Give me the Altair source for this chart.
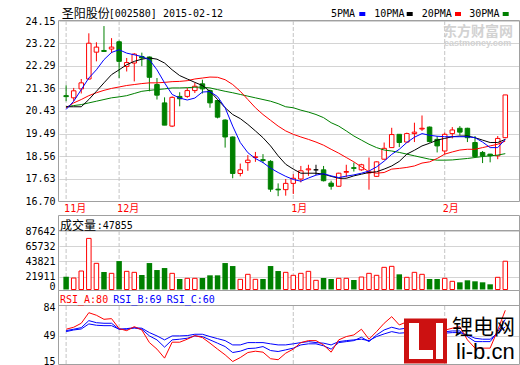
import altair as alt
import pandas as pd

# ---------------- data ----------------
opens = [21.06, 20.97, 21.34, 21.75, 22.86, 22.93, 22.99, 23.29, 22.27, 22.41,
         22.68, 22.66, 21.52, 20.76, 19.80, 21.03, 21.03, 21.27, 21.55, 21.27,
         20.86, 20.05, 19.35, 17.84, 18.29, 18.50, 18.41, 18.34, 17.19, 17.17,
         17.43, 17.61, 17.99, 17.99, 17.99, 17.44, 17.31, 17.89, 18.08, 17.99,
         17.86, 17.72, 18.43, 18.91, 19.46, 19.14, 19.49, 19.68, 19.76, 19.25,
         18.77, 19.49, 19.71, 19.71, 19.12, 18.71, 18.64, 18.57, 19.32]
closes = [21.02, 21.26, 21.59, 23.23, 23.07, 22.89, 23.07, 22.48, 22.43, 22.78,
          22.62, 21.82, 21.08, 19.84, 20.99, 20.93, 21.27, 21.45, 21.34, 20.76,
          20.17, 19.35, 17.84, 17.99, 18.39, 18.53, 18.38, 17.19, 17.16, 17.43,
          17.64, 17.95, 18.03, 17.99, 17.54, 17.31, 17.85, 17.92, 18.05, 18.20,
          17.90, 18.32, 18.88, 19.45, 19.12, 19.49, 19.55, 19.71, 19.16, 18.98,
          19.46, 19.64, 19.55, 19.32, 18.54, 18.57, 18.57, 19.29, 21.09]
highs = [21.49, 21.38, 21.75, 23.64, 23.27, 23.94, 23.44, 23.34, 22.62, 22.82,
         22.84, 22.68, 21.79, 20.99, 21.03, 21.20, 21.38, 21.59, 21.72, 21.31,
         20.90, 20.08, 19.37, 18.25, 18.60, 18.73, 18.64, 18.39, 17.43, 17.61,
         17.81, 18.15, 18.20, 18.20, 18.15, 17.54, 17.87, 18.20, 18.29, 18.24,
         18.50, 18.34, 19.12, 19.73, 19.46, 19.53, 19.94, 20.24, 19.78, 19.39,
         19.53, 19.76, 19.80, 19.73, 19.39, 18.77, 18.65, 19.39, 21.09]
lows = [20.83, 20.83, 21.15, 21.72, 22.48, 22.87, 22.82, 21.79, 22.06, 21.65,
        22.28, 21.24, 20.90, 19.84, 19.76, 20.62, 20.97, 21.17, 21.15, 20.56,
        20.12, 18.91, 17.64, 17.72, 17.95, 18.32, 18.27, 17.08, 16.90, 16.92,
        16.99, 17.47, 17.74, 17.78, 17.51, 17.17, 17.29, 17.68, 17.92, 17.95,
        17.17, 17.70, 18.40, 18.90, 18.93, 19.12, 19.14, 19.60, 19.12, 18.71,
        18.64, 19.29, 19.42, 19.14, 18.54, 18.27, 18.30, 18.43, 19.30]
volumes = [21600, 19750, 29840, 76970, 40940, 28400, 26520, 44250, 29400, 27960,
           24070, 41370, 31280, 34160, 26520, 18300, 19310, 19310, 19750, 23640,
           23640, 41370, 37050, 17870, 25080, 17870, 18300, 37050, 29840, 27960,
           23640, 26520, 29400, 16430, 19750, 18300, 19310, 19310, 16870, 21190,
           26520, 23640, 35170, 36610, 25080, 20760, 27960, 25080, 18300, 18300,
           19310, 14990, 13550, 16430, 14990, 13550, 10670, 20760, 44000]
ma5 = [20.49, 20.83, 21.31, 21.79, 22.13, 22.55, 22.85, 22.96, 22.82, 22.75,
       22.68, 22.55, 22.13, 21.59, 21.11, 20.96, 20.88, 20.96, 21.21, 21.23,
       21.02, 20.56, 19.80, 19.12, 18.70, 18.46, 18.29, 18.06, 17.88, 17.72,
       17.59, 17.52, 17.65, 17.77, 17.83, 17.74, 17.67, 17.73, 17.78, 17.85,
       17.94, 18.11, 18.35, 18.63, 18.84, 19.12, 19.34, 19.49, 19.42, 19.38,
       19.36, 19.36, 19.36, 19.36, 19.32, 19.14, 18.91, 18.91, 19.25]
ma10 = [20.60, 20.60, 20.60, 20.90, 21.24, 21.59, 21.93, 22.13, 22.34, 22.48,
        22.57, 22.62, 22.57, 22.41, 22.13, 21.89, 21.75, 21.61, 21.48, 21.24,
        20.90, 20.56, 20.28, 20.11, 19.87, 19.60, 19.32, 18.98, 18.57, 18.22,
        18.02, 17.85, 17.85, 17.85, 17.81, 17.72, 17.64, 17.64, 17.74, 17.81,
        17.88, 17.91, 18.02, 18.15, 18.34, 18.64, 18.80, 18.98, 19.09, 19.22,
        19.29, 19.36, 19.39, 19.39, 19.32, 19.22, 19.12, 19.12, 19.25]
ma20 = [20.56, 20.76, 20.90, 21.06, 21.18, 21.28, 21.36, 21.42, 21.48, 21.52,
        21.56, 21.59, 21.59, 21.61, 21.64, 21.65, 21.68, 21.75, 21.79, 21.83,
        21.82, 21.72, 21.52, 21.24, 20.90, 20.56, 20.28, 20.04, 19.80, 19.60,
        19.46, 19.35, 19.25, 19.14, 19.01, 18.84, 18.68, 18.50, 18.32, 18.11,
        17.91, 17.85, 17.88, 18.02, 18.05, 18.09, 18.15, 18.27, 18.32, 18.46,
        18.64, 18.73, 18.81, 18.84, 18.84, 18.91, 18.98, 19.05, 19.18]
ma30 = [20.60, 20.65, 20.69, 20.76, 20.83, 20.90, 20.97, 21.01, 21.06, 21.15,
        21.24, 21.28, 21.31, 21.34, 21.38, 21.38, 21.39, 21.41, 21.41, 21.38,
        21.31, 21.24, 21.18, 21.11, 21.04, 20.97, 20.90, 20.83, 20.73, 20.60,
        20.56, 20.46, 20.38, 20.28, 20.15, 19.94, 19.80, 19.60, 19.39, 19.22,
        19.05, 18.91, 18.81, 18.77, 18.71, 18.64, 18.57, 18.50, 18.43, 18.39,
        18.39, 18.40, 18.43, 18.46, 18.50, 18.54, 18.57, 18.60, 18.66]
rsi_a = [57.1, 59.5, 64.3, 77.1, 74.0, 69.1, 69.9, 57.8, 55.4, 60.2,
         56.2, 40.9, 33.0, 22.1, 41.4, 41.4, 45.0, 49.4, 47.0, 40.2,
         33.0, 26.1, 18.0, 22.8, 28.9, 30.5, 29.3, 21.4, 20.2, 28.1,
         33.0, 40.9, 43.3, 43.3, 38.1, 29.3, 44.2, 48.2, 50.2, 57.1,
         45.0, 54.2, 64.3, 72.3, 62.3, 66.0, 67.0, 68.0, 55.0, 50.0,
         56.0, 58.3, 60.2, 44.2, 34.2, 34.2, 34.2, 56.2, 80.0]
rsi_b = [55.4, 57.1, 59.0, 67.5, 65.0, 64.3, 64.3, 57.1, 57.1, 58.6,
         57.1, 49.0, 44.2, 35.4, 44.2, 45.0, 46.2, 49.0, 48.2, 44.2,
         40.2, 36.1, 28.9, 30.5, 33.7, 34.2, 36.1, 31.3, 30.1, 32.1,
         34.2, 38.1, 39.4, 39.4, 37.0, 33.0, 40.9, 42.1, 43.3, 47.4,
         42.1, 50.2, 56.2, 59.5, 57.1, 58.5, 59.0, 60.0, 55.0, 53.0,
         54.0, 55.0, 55.0, 48.2, 42.1, 42.1, 42.1, 54.2, 69.0]
rsi_c = [54.2, 56.2, 57.4, 63.5, 61.9, 61.4, 61.4, 57.1, 57.8, 59.0,
         58.3, 53.0, 49.0, 44.2, 49.0, 49.0, 49.4, 51.0, 51.0, 48.2,
         45.7, 43.3, 38.1, 38.1, 40.9, 40.9, 40.9, 39.4, 38.1, 38.1,
         39.4, 40.9, 42.1, 40.9, 40.2, 38.1, 42.1, 43.3, 44.2, 45.0,
         43.3, 48.2, 51.4, 54.2, 52.3, 53.0, 53.5, 54.0, 52.0, 51.0,
         52.3, 53.0, 53.0, 50.2, 46.2, 45.0, 45.0, 52.3, 60.0]

month_idx = [0, 7, 30, 50]
month_labels = ["11月", "12月", "1月", "2月"]
price_ticks = [16.70, 17.63, 18.56, 19.49, 20.43, 21.36, 22.29, 23.22, 24.15]
vol_ticks = [0, 21911, 43821, 65732, 87642]
rsi_ticks = [15, 49, 84]
title_name = "圣阳股份"
title_code = "[002580] 2015-02-12"
ma_names = ["5PMA", "10PMA", "20PMA", "30PMA"]
vol_name = "成交量"
vol_last = ":47855"
rsi_labels = ["RSI_A:80", "RSI_B:69", "RSI_C:60"]

# ---------------- styles ----------------
RED, GREEN, BLUE, BLACK = "#ff0000", "#008000", "#0000ff", "#000000"
GRID, DASH, FRAME = "#d4d4d4", "#c4c4c4", "#a0a0a0"
MONO = "DejaVu Sans Mono"
CJK = "Noto Sans CJK SC"
MIX = MONO + ", " + CJK
LEFT = 59
PW = 460
VOL_FLOOR = 3170

n = len(closes)
bars = pd.DataFrame({
    "i": list(range(n)), "o": opens, "h": highs, "l": lows, "c": closes, "v": volumes,
    "ma5": ma5, "ma10": ma10, "ma20": ma20, "ma30": ma30,
    "ra": rsi_a, "rb": rsi_b, "rc": rsi_c,
})
months = pd.DataFrame({"i": month_idx, "label": month_labels})
one = pd.DataFrame({"k": [0]})

X = alt.X("i:Q", scale=alt.Scale(domain=[-0.28, 59.15], nice=False, zero=False), axis=None)

axis_common = dict(orient="left", title=None, domain=False, ticks=False, labelPadding=4,
                   grid=True, gridColor=GRID, gridWidth=1, labelOverlap=False,
                   labelFont=MONO, labelFontSize=10, labelColor=BLACK)

PS = alt.Scale(domain=[price_ticks[0], price_ticks[-1]], range=[201, 21], nice=False, zero=False)
PA = alt.Axis(values=price_ticks, format=".2f", **axis_common)

VS = alt.Scale(domain=[VOL_FLOOR, vol_ticks[-1]], range=[289.5, 231], nice=False, zero=False, clamp=True)
VA = alt.Axis(values=[VOL_FLOOR] + vol_ticks[1:], format="d",
              labelExpr="datum.value < 5000 ? '0' : datum.label",
              labelBaseline={"condition": {"test": "datum.value < 5000", "value": "alphabetic"},
                             "value": "middle"},
              **axis_common)

RS = alt.Scale(domain=[rsi_ticks[0], rsi_ticks[-1]], range=[364, 307], nice=False, zero=False)
RA = alt.Axis(values=rsi_ticks, format="d",
              gridOpacity={"condition": {"test": "datum.value == 49", "value": 1}, "value": 0},
              labelBaseline={"condition": {"test": "datum.value < 20", "value": "alphabetic"},
                             "value": "middle"},
              **axis_common)

UP, DOWN, FLAT = "datum.c > datum.o", "datum.c < datum.o", "datum.c == datum.o"


def dash_rule(y1, y2):
    return alt.Chart(months).mark_rule(color=DASH, strokeDash=[4, 2], strokeWidth=1).encode(
        x=X, y=alt.value(y1), y2=alt.value(y2))


def box(x1, y1, x2, y2, **kw):
    return alt.Chart(one).mark_rect(**kw).encode(
        x=alt.value(x1 - LEFT), x2=alt.value(x2 - LEFT), y=alt.value(y1), y2=alt.value(y2))


def hline(y):
    return alt.Chart(one).mark_rule(color=FRAME, strokeWidth=1).encode(
        x=alt.value(-0.5), x2=alt.value(PW + 0.5), y=alt.value(y))


def label(text, x, y, size=10, font=MONO, color=BLACK, weight="normal"):
    return alt.Chart(one).mark_text(text=text, font=font, fontSize=size, color=color, fontWeight=weight,
                                    align="left", baseline="middle").encode(
        x=alt.value(x - LEFT), y=alt.value(y))


# ---------------- background: frames + watermark ----------------
frame_kw = dict(fillOpacity=0, stroke=FRAME, strokeWidth=1)
bg = alt.layer(
    box(58.5, 20.5, 519.5, 201.5, **frame_kw),
    box(58.5, 215.5, 519.5, 290.5, **frame_kw),
    hline(230.5),
    box(58.5, 290.5, 519.5, 364.5, **frame_kw),
    hline(305.5),
    label("东方财富网", 443, 31.5, size=14, font=CJK, color="#d2d2d2", weight="bold"),
    label("eastmoney.com", 444, 43, size=9, font="Liberation Sans", color="#d2d2d2", weight="bold"),
)

# ---------------- price panel ----------------
def wick(cond, color):
    return alt.Chart(bars).transform_filter(cond).mark_rule(color=color, strokeWidth=1).encode(
        x=X, y=alt.Y("l:Q", scale=PS, axis=PA), y2=alt.Y2("h:Q"))


def body(cond, fill, stroke):
    return alt.Chart(bars).transform_filter(cond).mark_bar(
        orient="vertical", size=4.5, fill=fill, stroke=stroke, strokeWidth=1).encode(
        x=X, y=alt.Y("o:Q", scale=PS, axis=PA), y2=alt.Y2("c:Q"))


def ma_line(field, color):
    return alt.Chart(bars).mark_line(color=color, strokeWidth=1).encode(
        x=X, y=alt.Y(f"{field}:Q", scale=PS, axis=PA))


price = alt.layer(
    dash_rule(21, 201),
    wick(UP, RED), wick(DOWN, GREEN), wick(FLAT, BLACK),
    body(UP, "white", RED), body(DOWN, GREEN, GREEN), body(FLAT, BLACK, BLACK),
    ma_line("ma30", GREEN), ma_line("ma20", RED), ma_line("ma10", BLACK), ma_line("ma5", BLUE),
)

# ---------------- volume panel ----------------
volume = alt.layer(
    dash_rule(231, 289.5),
    alt.Chart(bars).transform_filter("datum.c >= datum.o").mark_bar(
        orient="vertical", size=4.5, fill="white", stroke=RED, strokeWidth=1).encode(
        x=X, y=alt.Y("v:Q", scale=VS, axis=VA, stack=None)),
    alt.Chart(bars).transform_filter("datum.c < datum.o").mark_bar(
        orient="vertical", size=5.5, fill=GREEN).encode(
        x=X, y=alt.Y("v:Q", scale=VS, axis=VA, stack=None)),
)

# ---------------- RSI panel ----------------
def rsi_line(field, color):
    return alt.Chart(bars).mark_line(color=color, strokeWidth=1).encode(
        x=X, y=alt.Y(f"{field}:Q", scale=RS, axis=RA))


rsi = alt.layer(
    dash_rule(306, 364),
    rsi_line("rc", BLUE), rsi_line("rb", BLUE), rsi_line("ra", RED),
)

# ---------------- overlay texts, legend, logo ----------------
legend_x = [331, 374.3, 421.7, 469.3]
legend_sw = [359.3, 406.7, 455, 502.7]
legend_col = [BLUE, BLACK, RED, GREEN]
legend_parts = []
for name, tx, sx, col in zip(ma_names, legend_x, legend_sw, legend_col):
    legend_parts.append(label(name, tx, 14))
    legend_parts.append(box(sx, 12, sx + 6, 16, fill=col))

month_text = alt.Chart(months).mark_text(align="left", baseline="middle", dx=-2, font=MIX, fontSize=10,
                                         color=RED).encode(x=X, y=alt.value(208.5), text="label:N")

over = alt.layer(
    month_text,
    label(title_name, 61.7, 14, size=12, font=CJK),
    label(title_code, 108.7, 14),
    *legend_parts,
    label(vol_name, 60, 226, size=12, font=CJK),
    label(vol_last, 96.7, 226),
    label(rsi_labels[0], 60, 299.5, color=RED),
    label(rsi_labels[1], 113.3, 299.5, color=BLUE),
    label(rsi_labels[2], 166.7, 299.5, color=BLUE),
    box(404, 318.5, 447, 363.5, fill="#cc1111"),
    box(409, 323, 419, 359, fill="white"),
    box(409, 350, 433, 359, fill="white"),
    box(436, 323, 443, 359, fill="white"),
    label("锂电网", 452, 327.5, size=21, font=CJK),
    label("li-b.cn", 456, 351.5, size=22, font="Liberation Sans"),
)

chart = alt.layer(bg, price, volume, rsi, over).resolve_scale(y="independent").properties(
    width=PW, height=365,
    padding={"left": LEFT, "right": 1, "top": 0, "bottom": 0},
    autosize=alt.AutoSizeParams(type="none"),
    background="white",
).configure_view(strokeWidth=0)

chart.save("out.html", embed_options={"renderer": "svg", "actions": False})
